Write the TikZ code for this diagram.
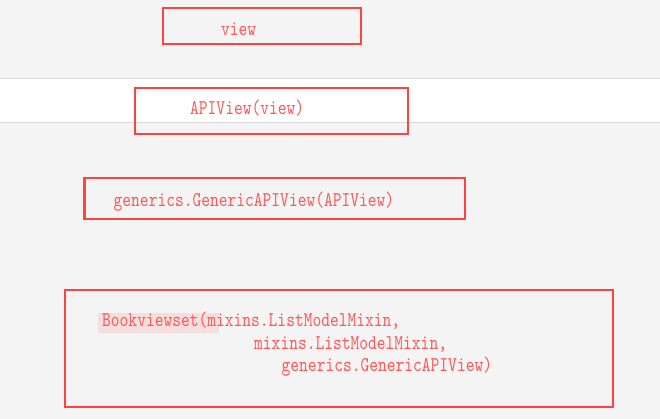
\documentclass[tikz,border=0pt]{standalone}
\usepackage{fontspec}
\setmonofont[FakeStretch=0.795]{lmmono10-regular.otf}
\definecolor{bggray}{RGB}{244,244,244}
\definecolor{bandline}{RGB}{216,216,216}
\definecolor{boxred}{RGB}{255,66,66}
\definecolor{textred}{RGB}{255,88,88}
\definecolor{hilite}{RGB}{245,222,222}
\tikzset{
  redbox/.style={draw=boxred, line width=2.6pt},
  code/.style={anchor=base west, inner sep=0pt, text=textred, font=\ttfamily\fontsize{21}{22}\selectfont}
}
\begin{document}
\begin{tikzpicture}[x=1pt,y=-1pt]
  % background
  \fill[bggray] (0,0) rectangle (660,419);
  \useasboundingbox (0,0) rectangle (660,419);
  % white band
  \fill[white] (0,78.3) rectangle (660,122.7);
  \draw[bandline, line width=1pt] (0,78.3) -- (660,78.3);
  \draw[bandline, line width=1pt] (0,122.7) -- (660,122.7);
  % highlight behind Bookviewset
  \fill[hilite] (97.5,313) rectangle (219,333);
  % boxes
  \draw[redbox] (163,8) rectangle (361,44);
  \draw[redbox] (135,88) rectangle (408,134);
  \draw[redbox] (84.5,178) rectangle (465,219);
  \draw[redbox] (65,290) rectangle (613,407);
  % texts
  \node[code] (tview) at (221,36) {view};
  \node[code] (tapi) at (190,115) {APIView(view)};
  \node[code] (tgen) at (113.5,207) {generics.GenericAPIView(APIView)};
  \node[code] (tb1) at (102,326.7) {Bookviewset(mixins.ListModelMixin,};
  \node[code] (tb2) at (254,349) {mixins.ListModelMixin,};
  \node[code] (tb3) at (281.5,371) {generics.GenericAPIView)};
\end{tikzpicture}
\end{document}
